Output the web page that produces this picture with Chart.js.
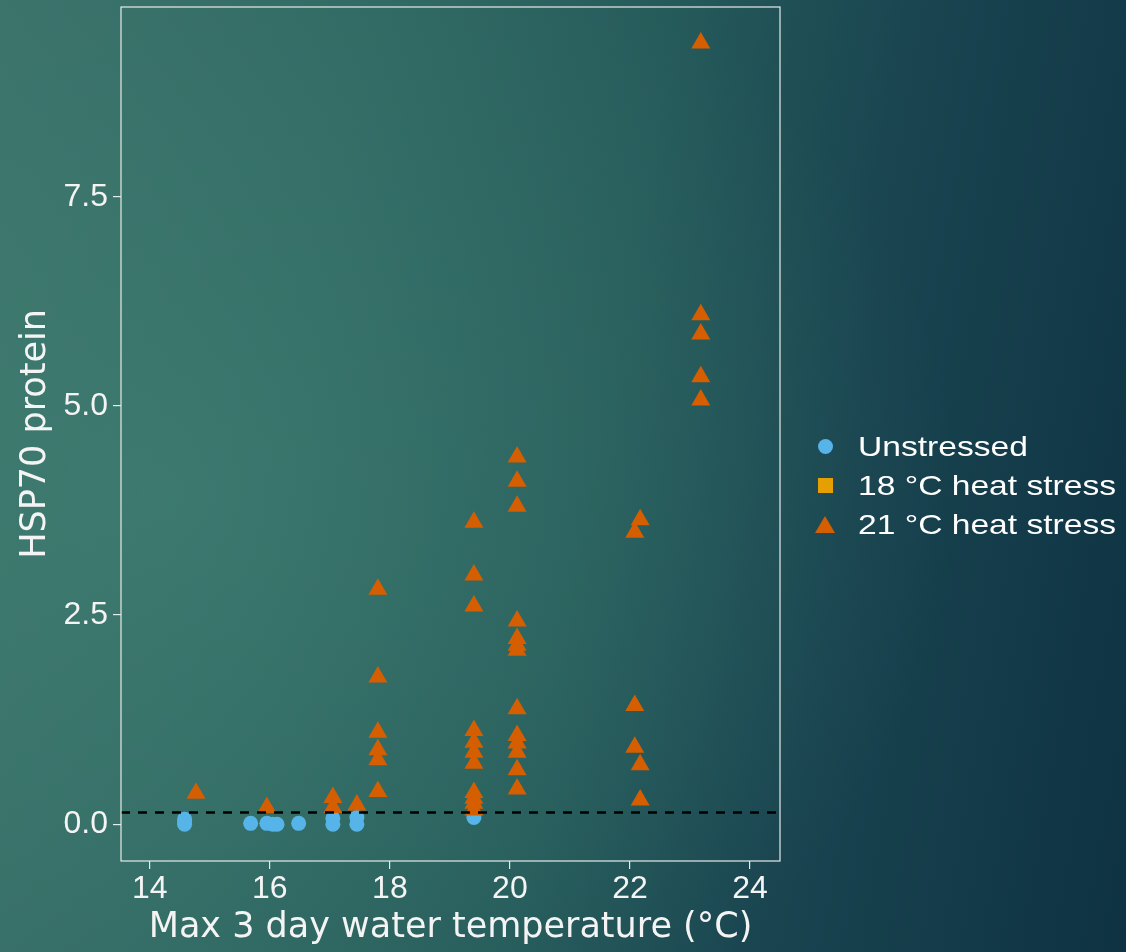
<!DOCTYPE html>
<html>
<head>
<meta charset="utf-8">
<script src="https://cdn.jsdelivr.net/npm/chart.js@4.4.1/dist/chart.umd.min.js"></script>
<style>
  html, body { margin: 0; padding: 0; }
  #wrap {
    position: relative; width: 1126px; height: 952px; overflow: hidden;
    background:
      radial-gradient(ellipse 800px 650px at 14% 52%, rgba(72, 138, 122, 0.45), rgba(72, 138, 122, 0) 100%),
      linear-gradient(100deg, #3a7169 0%, #306863 28%, #255a5a 52%, #194450 72%, #0e3242 100%);
  }
  #hspChart { position: absolute; left: 0; top: 0; }
  #legend {
    position: absolute; left: 815px; top: 427px;
    font-family: "Liberation Sans", Arial, sans-serif; font-size: 28px; color: #fff;
  }
  .row { height: 39px; display: flex; align-items: center; }
  .mark { width: 20px; height: 20px; display: flex; justify-content: center; align-items: center; margin-right: 23px; }
  .label { transform: scaleX(1.2); transform-origin: left center; white-space: nowrap; }
</style>
</head>
<body>
<div id="wrap">
  <canvas id="hspChart" width="1126" height="952"></canvas>
  <div id="legend"></div>
</div>
<script>
// Max 3 day water temperature (°C) / HSP70 protein, per group
const unstressedTemp = [14.58, 14.58, 14.58, 15.68, 15.95, 16.05, 16.12, 16.48, 17.05, 17.05, 17.45, 17.45, 19.4];
const unstressedHsp  = [0.06, 0.0, 0.02, 0.01, 0.01, 0.0, 0.0, 0.01, 0.07, 0.0, 0.08, 0.0, 0.08];

const heat18Temp = [];
const heat18Hsp  = [];

const heat21Temp = [14.77, 15.95, 17.05, 17.05, 17.45,
  17.8, 17.8, 17.8, 17.8, 17.8, 17.8,
  19.4, 19.4, 19.4, 19.4, 19.4, 19.4, 19.4, 19.4, 19.4, 19.4, 19.4,
  20.12, 20.12, 20.12, 20.12, 20.12, 20.12, 20.12, 20.12, 20.12, 20.12, 20.12, 20.12, 20.12,
  22.08, 22.08, 22.08, 22.17, 22.17, 22.17,
  23.18, 23.18, 23.18, 23.18, 23.18];
const heat21Hsp = [0.37, 0.2, 0.32, 0.2, 0.23,
  2.81, 1.76, 1.1, 0.89, 0.77, 0.39,
  3.61, 2.98, 2.61, 1.12, 0.98, 0.86, 0.73, 0.38, 0.31, 0.25, 0.17,
  4.39, 4.1, 3.8, 2.43, 2.22, 2.14, 2.08, 1.38, 1.06, 0.97, 0.86, 0.65, 0.42,
  3.49, 1.42, 0.92, 3.64, 0.71, 0.29,
  9.34, 6.09, 5.86, 5.35, 5.07];

const xTicks = [14, 16, 18, 20, 22, 24];
const yTicks = [0, 2.5, 5, 7.5];
const detectionLimit = 0.14; // dashed line

function toPoints(xs, ys) {
  return xs.map((x, i) => ({ x: x, y: ys[i] }));
}

// dashed line + plot frame
const plotFrame = {
  id: 'plotFrame',
  afterDatasetsDraw(chart) {
    const { ctx, chartArea: a, scales: { y } } = chart;
    const yy = y.getPixelForValue(detectionLimit);
    ctx.save();
    ctx.setLineDash([9, 8]);
    ctx.lineWidth = 2.5;
    ctx.strokeStyle = '#000';
    ctx.beginPath();
    ctx.moveTo(a.left, yy);
    ctx.lineTo(a.right, yy);
    ctx.stroke();
    ctx.setLineDash([]);
    ctx.strokeStyle = '#e6ecea';
    ctx.lineWidth = 1.2;
    ctx.strokeRect(a.left, a.top, a.right - a.left, a.bottom - a.top);
    ctx.restore();
  }
};

const tickFont = { family: '"Liberation Sans", Arial, sans-serif', size: 32 };
const titleFont = { family: '"DejaVu Sans", sans-serif', size: 35 };

const chart = new Chart(document.getElementById('hspChart'), {
  type: 'scatter',
  data: {
    datasets: [
      {
        label: 'Unstressed',
        data: toPoints(unstressedTemp, unstressedHsp),
        pointStyle: 'circle',
        pointRadius: 7.5,
        backgroundColor: '#56B4E9',
        borderWidth: 0,
        order: 3
      },
      {
        label: '18 °C heat stress',
        data: toPoints(heat18Temp, heat18Hsp),
        pointStyle: 'rect',
        pointRadius: 8,
        backgroundColor: '#E69F00',
        borderWidth: 0,
        order: 2
      },
      {
        label: '21 °C heat stress',
        data: toPoints(heat21Temp, heat21Hsp),
        pointStyle: 'triangle',
        pointRadius: 11,
        backgroundColor: '#D55E00',
        borderWidth: 0,
        order: 1
      }
    ]
  },
  options: {
    responsive: false,
    animation: false,
    devicePixelRatio: 1,
    layout: { autoPadding: false, padding: { left: 0, top: 7, right: 346, bottom: 0 } },
    plugins: {
      legend: { display: false },
      tooltip: { enabled: false }
    },
    scales: {
      x: {
        type: 'linear',
        min: 13.52,
        max: 24.5,
        afterBuildTicks: (s) => { s.ticks = xTicks.map(v => ({ value: v })); },
        afterFit: (s) => { s.height = 91; s.paddingLeft = 0; s.paddingRight = 0; },
        border: { display: false },
        grid: { drawOnChartArea: false, drawTicks: true, tickLength: 8, color: '#e6ecea', lineWidth: 1.2 },
        ticks: { color: '#f4f4f4', font: tickFont, padding: 1, maxRotation: 0 },
        title: { display: true, text: 'Max 3 day water temperature (°C)', color: '#f4f4f4', font: titleFont, padding: { top: 0, bottom: 3 } }
      },
      y: {
        min: -0.44,
        max: 9.77,
        afterBuildTicks: (s) => { s.ticks = yTicks.map(v => ({ value: v })); },
        afterFit: (s) => { s.width = 121; s.paddingTop = 0; s.paddingBottom = 0; },
        border: { display: false },
        grid: { drawOnChartArea: false, drawTicks: true, tickLength: 8, color: '#e6ecea', lineWidth: 1.2 },
        ticks: { color: '#f4f4f4', font: tickFont, padding: 5, callback: (v) => v.toFixed(1) },
        title: { display: true, text: 'HSP70 protein', color: '#f4f4f4', font: titleFont, padding: { top: 15, bottom: 0 } }
      }
    }
  },
  plugins: [plotFrame]
});

// legend built from the datasets
const legendEl = document.getElementById('legend');
chart.data.datasets.forEach(ds => {
  const row = document.createElement('div');
  row.className = 'row';
  const mark = document.createElement('div');
  mark.className = 'mark';
  const shape = document.createElement('div');
  shape.style.background = ds.backgroundColor;
  if (ds.pointStyle === 'circle') {
    shape.style.width = '15px'; shape.style.height = '15px'; shape.style.borderRadius = '50%';
  } else if (ds.pointStyle === 'rect') {
    shape.style.width = '15px'; shape.style.height = '15px';
  } else {
    shape.style.width = '20px'; shape.style.height = '17px';
    shape.style.clipPath = 'polygon(50% 0, 100% 100%, 0 100%)';
  }
  mark.appendChild(shape);
  const label = document.createElement('div');
  label.className = 'label';
  label.textContent = ds.label;
  row.appendChild(mark);
  row.appendChild(label);
  legendEl.appendChild(row);
});
</script>
</body>
</html>
